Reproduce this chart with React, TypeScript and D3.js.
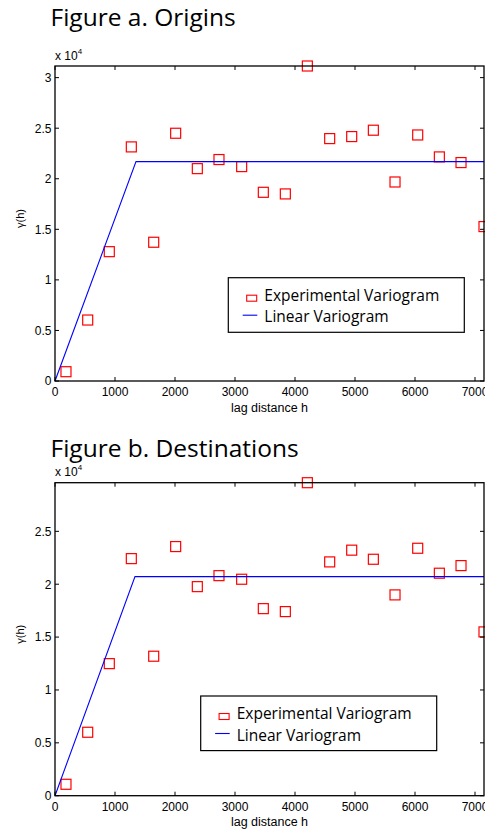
import React from "react";
import * as d3 from "d3";

// lag bins (same for both panels)
const lags = [183, 545, 905, 1272, 1645, 2011, 2372, 2733, 3111, 3472, 3839, 4206, 4578, 4945, 5306, 5667, 6045, 6406, 6767, 7150];

// experimental variogram values
const originsGamma = [920, 6030, 12790, 23150, 13720, 24500, 21000, 21900, 21200, 18660, 18500, 31150, 23970, 24170, 24800, 19680, 24330, 22160, 21600, 15270];
const destGamma = [1080, 6000, 12490, 22420, 13190, 23560, 19770, 20810, 20470, 17690, 17410, 29600, 22110, 23220, 22360, 18990, 23400, 21040, 21760, 15490];

// fitted linear (with sill) models: [range, sill]
const originsModel = [1350, 21690];
const destModel = [1333, 20720];

const xTicks = [0, 1000, 2000, 3000, 4000, 5000, 6000, 7000];
const originsYTicks = [0, 5000, 10000, 15000, 20000, 25000, 30000];
const destYTicks = [0, 5000, 10000, 15000, 20000, 25000];
const titles = ["Figure a. Origins", "Figure b. Destinations"];
const legendLabels = ["Experimental Variogram", "Linear Variogram"];

const X_MAX = 7150;
const LEFT = 55;
const RIGHT = 484;
const TICK = 4;

type PanelProps = {
  title: string;
  titleY: number;
  top: number;
  bottom: number;
  yMax: number;
  yTicks: number[];
  gamma: number[];
  model: number[];
  legendX: number;
  legendY: number;
};

function Panel({ title, titleY, top, bottom, yMax, yTicks, gamma, model, legendX, legendY }: PanelProps) {
  const x = d3.scaleLinear().domain([0, X_MAX]).range([LEFT, RIGHT]);
  const y = d3.scaleLinear().domain([0, yMax]).range([bottom, top]);
  const line = d3.line<number[]>().x(d => x(d[0])).y(d => y(d[1]));
  const modelPts = [[0, 0], [model[0], model[1]], [X_MAX, model[1]]];
  const tickFont = "'Liberation Sans', Arial, sans-serif";
  const midX = (LEFT + RIGHT) / 2;

  return (
    <g>
      <text x={50.5} y={titleY} fontFamily="'Open Sans', sans-serif" fontSize={24.5} fill="#000">{title}</text>

      {/* experimental points */}
      {lags.map((l, i) => (
        <rect key={i} x={x(l) - 5} y={y(gamma[i]) - 5} width={10} height={10}
          fill="none" stroke="#ff0000" strokeWidth={1.2} />
      ))}

      {/* model */}
      <path d={line(modelPts) || ""} fill="none" stroke="#0000ff" strokeWidth={1.1} />

      {/* box */}
      <rect x={LEFT} y={top} width={RIGHT - LEFT} height={bottom - top} fill="none" stroke="#000" strokeWidth={1.3} />

      {/* x ticks */}
      {xTicks.map(t => (
        <g key={"x" + t}>
          <line x1={x(t)} x2={x(t)} y1={bottom} y2={bottom - TICK} stroke="#000" strokeWidth={1} />
          <line x1={x(t)} x2={x(t)} y1={top} y2={top + TICK} stroke="#000" strokeWidth={1} />
          <text x={x(t)} y={bottom + 15.2} textAnchor="middle" fontFamily={tickFont} fontSize={12} fill="#000">{t}</text>
        </g>
      ))}

      {/* y ticks */}
      {yTicks.map(t => (
        <g key={"y" + t}>
          <line x1={LEFT} x2={LEFT + TICK} y1={y(t)} y2={y(t)} stroke="#000" strokeWidth={1} />
          <line x1={RIGHT} x2={RIGHT - TICK} y1={y(t)} y2={y(t)} stroke="#000" strokeWidth={1} />
          <text x={LEFT - 3.5} y={y(t)} dy="0.36em" textAnchor="end" fontFamily={tickFont} fontSize={12} fill="#000">{t / 1e4}</text>
        </g>
      ))}

      {/* exponent */}
      <text x={LEFT} y={top - 6.5} fontFamily={tickFont} fontSize={12} fill="#000">
        x 10<tspan dy={-6} fontSize={8}>4</tspan>
      </text>

      {/* axis labels */}
      <text x={midX} y={bottom + 30.5} textAnchor="middle" fontFamily={tickFont} fontSize={12.5} fill="#000">lag distance h</text>
      <text transform={`translate(20,${(top + bottom) / 2 - 5}) rotate(-90)`} dy="0.35em" textAnchor="middle"
        fontFamily={tickFont} fontSize={11} fill="#000">γ(h)</text>

      {/* legend */}
      <g transform={`translate(${legendX},${legendY})`}>
        <rect x={0} y={0} width={236} height={54.6} fill="#fff" stroke="#000" strokeWidth={1.2} />
        <rect x={18.4} y={17.5} width={10} height={6} fill="none" stroke="#ff0000" strokeWidth={1.1} />
        <line x1={14.4} x2={29} y1={37.5} y2={37.5} stroke="#0000ff" strokeWidth={1.1} />
        <text x={36} y={23} fontFamily="'Open Sans', sans-serif" fontSize={15.5} fill="#000">{legendLabels[0]}</text>
        <text x={36} y={44.5} fontFamily="'Open Sans', sans-serif" fontSize={15.5} fill="#000">{legendLabels[1]}</text>
      </g>
    </g>
  );
}

export default function App() {
  return (
    <svg width={485} height={832} style={{ position: "absolute", left: 0, top: 0, background: "#fff" }}>
      <rect width={485} height={832} fill="#fff" />
      <Panel title={titles[0]} titleY={26} top={66} bottom={381} yMax={31150} yTicks={originsYTicks}
        gamma={originsGamma} model={originsModel} legendX={228.3} legendY={277.7} />
      <Panel title={titles[1]} titleY={456.7} top={482.7} bottom={795.7} yMax={29600} yTicks={destYTicks}
        gamma={destGamma} model={destModel} legendX={200.7} legendY={696} />
    </svg>
  );
}
